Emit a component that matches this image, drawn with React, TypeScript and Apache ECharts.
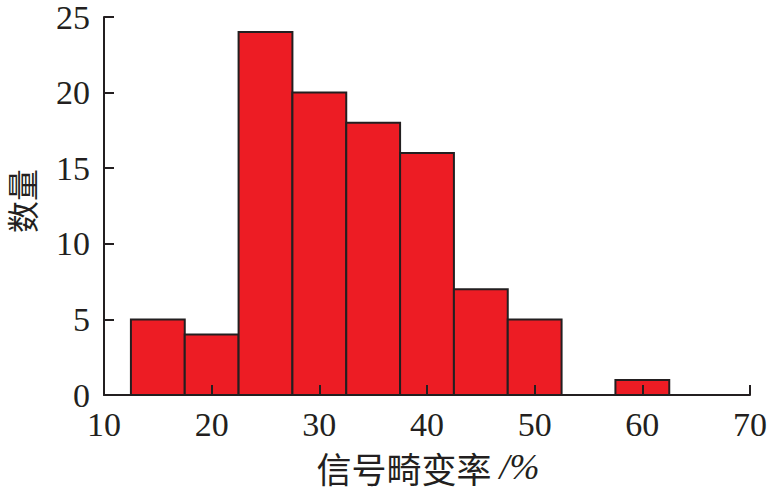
import React, { useEffect, useRef } from "react";
import * as echarts from "echarts";

const binStarts = [12.5, 17.5, 22.5, 27.5, 32.5, 37.5, 42.5, 47.5, 52.5, 57.5];
const binWidth = 5;
const counts = [5, 4, 24, 20, 18, 16, 7, 5, 0, 1];
const xTitle = "信号畸变率 ";
const xUnit = "/%";
const yTitle = "数量";

export default function App() {
  const ref = useRef<HTMLDivElement>(null);
  useEffect(() => {
    const chart = echarts.init(ref.current!, null, { renderer: "svg" });
    const data = binStarts
      .map((s, i) => [s, s + binWidth, counts[i]])
      .filter((d) => d[2] > 0);
    const dark = "#231F20";
    chart.setOption({
      animation: false,
      grid: { left: 104, right: 21, top: 13, bottom: 97 },
      xAxis: {
        type: "value",
        min: 10,
        max: 70,
        interval: 10,
        z: 10,
        axisLine: { show: true, lineStyle: { color: dark, width: 2 } },
        axisTick: { show: true, inside: true, length: 10, lineStyle: { color: dark, width: 2 } },
        axisLabel: { fontFamily: "Liberation Serif", fontSize: 34, color: dark, margin: 12 },
        splitLine: { show: false },
      },
      yAxis: {
        type: "value",
        min: 0,
        max: 25,
        interval: 5,
        z: 10,
        axisLine: { show: true, lineStyle: { color: dark, width: 2 } },
        axisTick: { show: true, inside: true, length: 10, lineStyle: { color: dark, width: 2 } },
        axisLabel: { fontFamily: "Liberation Serif", fontSize: 34, color: dark, margin: 14 },
        splitLine: { show: false },
      },
      series: [
        {
          type: "custom",
          data,
          renderItem: (params: any, api: any) => {
            const p0 = api.coord([api.value(0), api.value(2)]);
            const p1 = api.coord([api.value(1), 0]);
            return {
              type: "rect",
              shape: { x: p0[0], y: p0[1], width: p1[0] - p0[0], height: p1[1] - p0[1] },
              style: { fill: "#ED1C24", stroke: dark, lineWidth: 2 },
            };
          },
        },
      ],
      graphic: [
        {
          type: "text",
          x: 428,
          y: 467,
          style: {
            text: `{a|${xTitle}}{b|${xUnit}}`,
            align: "center",
            verticalAlign: "middle",
            rich: {
              a: { fontFamily: "Noto Sans CJK SC", fontSize: 35, fill: dark },
              b: { fontFamily: "Liberation Serif", fontStyle: "italic", fontSize: 36, fill: dark },
            },
          },
        },
        {
          type: "text",
          x: 21,
          y: 201,
          rotation: Math.PI / 2,
          style: {
            text: yTitle,
            align: "center",
            verticalAlign: "middle",
            fontFamily: "Noto Sans CJK SC",
            fontSize: 32,
            fill: dark,
          },
        },
      ],
    });
    return () => chart.dispose();
  }, []);
  return <div ref={ref} style={{ width: 771, height: 492, position: "absolute", left: 0, top: 0 }} />;
}
